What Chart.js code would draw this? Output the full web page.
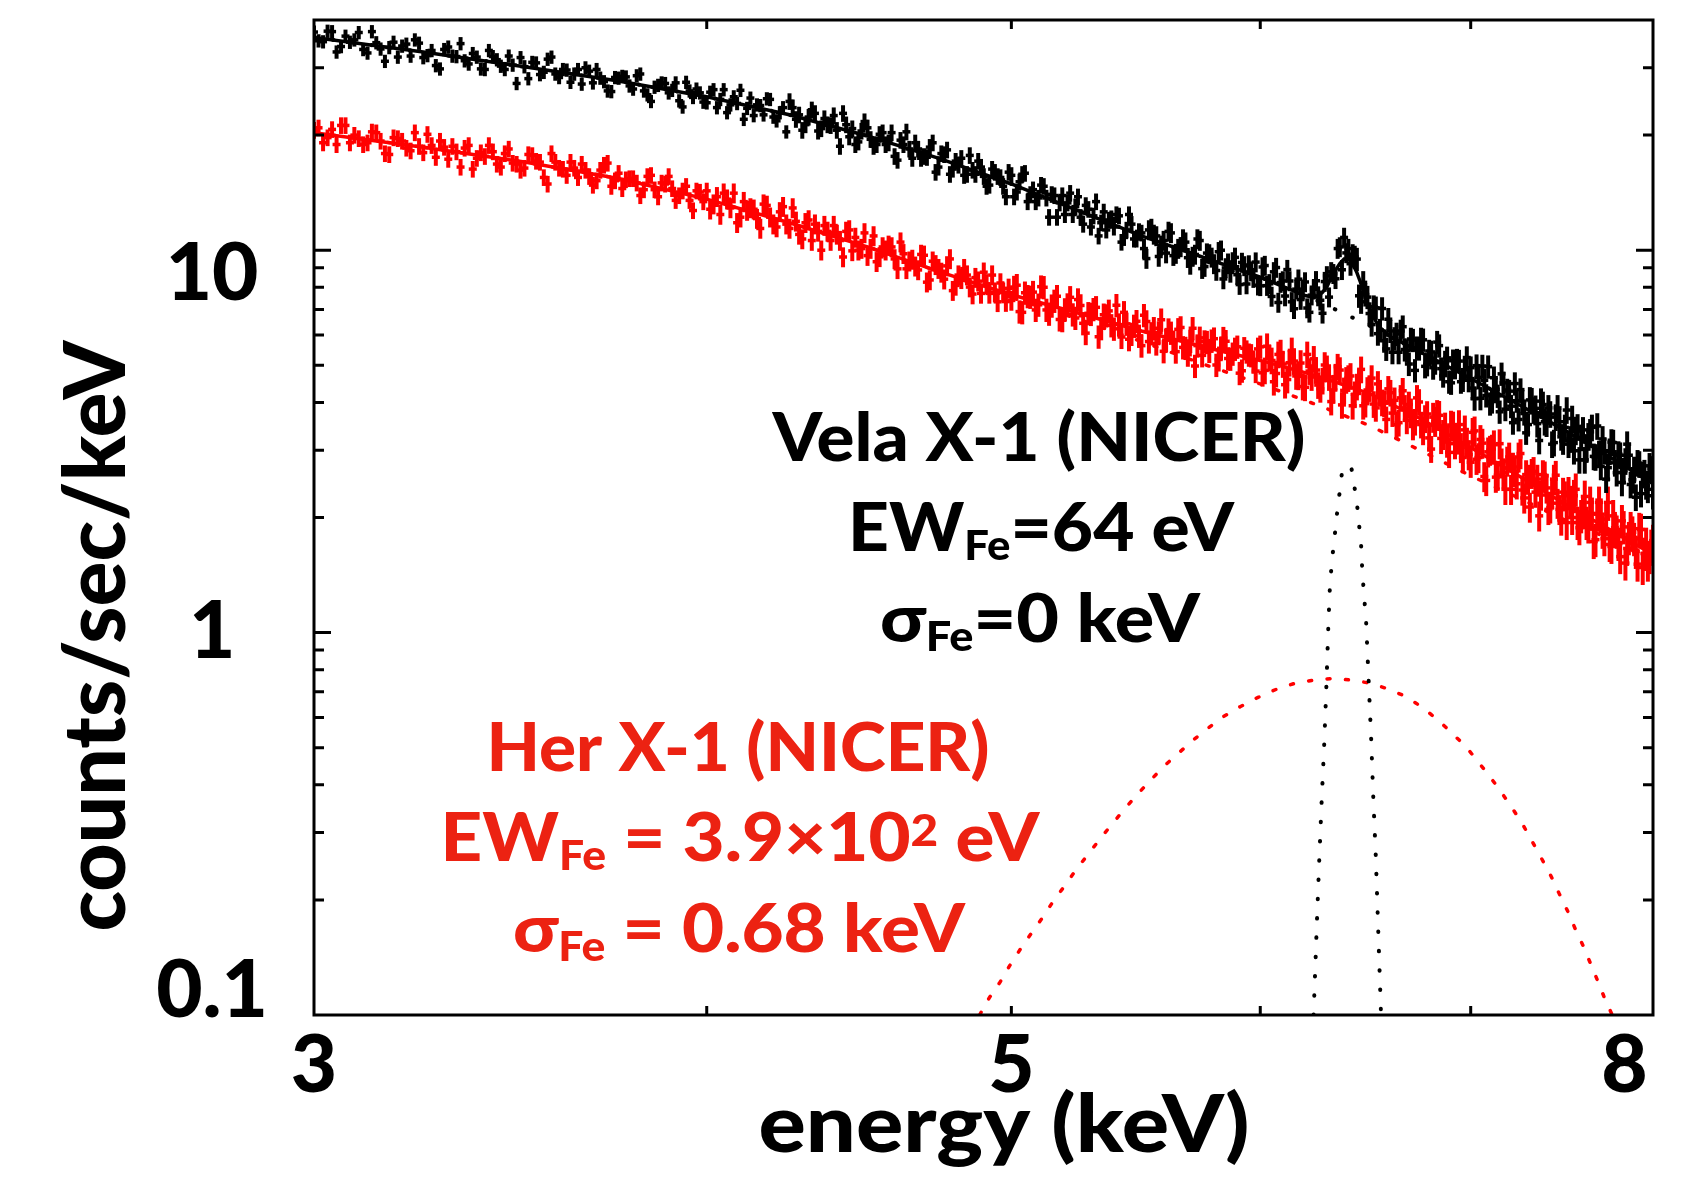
<!DOCTYPE html>
<html><head><meta charset="utf-8">
<script src="https://cdn.jsdelivr.net/npm/chart.js@4.4.1/dist/chart.umd.min.js"></script>
<style>html,body{margin:0;padding:0;background:#fff;overflow:hidden}canvas{display:block}</style>
</head><body>
<canvas id="c" width="1692" height="1181"></canvas>
<script>
// ---------- data ----------
// even channels
const energy = [
3,3.02,3.04,3.06,3.08,3.1,3.12,3.14,3.16,3.18,
3.2,3.22,3.24,3.26,3.28,3.3,3.32,3.34,3.36,3.38,
3.4,3.42,3.44,3.46,3.48,3.5,3.52,3.54,3.56,3.58,
3.6,3.62,3.64,3.66,3.68,3.7,3.72,3.74,3.76,3.78,
3.8,3.82,3.84,3.86,3.88,3.9,3.92,3.94,3.96,3.98,
4,4.02,4.04,4.06,4.08,4.1,4.12,4.14,4.16,4.18,
4.2,4.22,4.24,4.26,4.28,4.3,4.32,4.34,4.36,4.38,
4.4,4.42,4.44,4.46,4.48,4.5,4.52,4.54,4.56,4.58,
4.6,4.62,4.64,4.66,4.68,4.7,4.72,4.74,4.76,4.78,
4.8,4.82,4.84,4.86,4.88,4.9,4.92,4.94,4.96,4.98,
5,5.02,5.04,5.06,5.08,5.1,5.12,5.14,5.16,5.18,
5.2,5.22,5.24,5.26,5.28,5.3,5.32,5.34,5.36,5.38,
5.4,5.42,5.44,5.46,5.48,5.5,5.52,5.54,5.56,5.58,
5.6,5.62,5.64,5.66,5.68,5.7,5.72,5.74,5.76,5.78,
5.8,5.82,5.84,5.86,5.88,5.9,5.92,5.94,5.96,5.98,
6,6.02,6.04,6.06,6.08,6.1,6.12,6.14,6.16,6.18,
6.2,6.22,6.24,6.26,6.28,6.3,6.32,6.34,6.36,6.38,
6.4,6.42,6.44,6.46,6.48,6.5,6.52,6.54,6.56,6.58,
6.6,6.62,6.64,6.66,6.68,6.7,6.72,6.74,6.76,6.78,
6.8,6.82,6.84,6.86,6.88,6.9,6.92,6.94,6.96,6.98,
7,7.02,7.04,7.06,7.08,7.1,7.12,7.14,7.16,7.18,
7.2,7.22,7.24,7.26,7.28,7.3,7.32,7.34,7.36,7.38,
7.4,7.42,7.44,7.46,7.48,7.5,7.52,7.54,7.56,7.58,
7.6,7.62,7.64,7.66,7.68,7.7,7.72,7.74,7.76,7.78,
7.8,7.82,7.84,7.86,7.88,7.9,7.92,7.94,7.96,7.98,
8];
// odd channels
const energyMid = [
3.01,3.03,3.05,3.07,3.09,3.11,3.13,3.15,3.17,3.19,
3.21,3.23,3.25,3.27,3.29,3.31,3.33,3.35,3.37,3.39,
3.41,3.43,3.45,3.47,3.49,3.51,3.53,3.55,3.57,3.59,
3.61,3.63,3.65,3.67,3.69,3.71,3.73,3.75,3.77,3.79,
3.81,3.83,3.85,3.87,3.89,3.91,3.93,3.95,3.97,3.99,
4.01,4.03,4.05,4.07,4.09,4.11,4.13,4.15,4.17,4.19,
4.21,4.23,4.25,4.27,4.29,4.31,4.33,4.35,4.37,4.39,
4.41,4.43,4.45,4.47,4.49,4.51,4.53,4.55,4.57,4.59,
4.61,4.63,4.65,4.67,4.69,4.71,4.73,4.75,4.77,4.79,
4.81,4.83,4.85,4.87,4.89,4.91,4.93,4.95,4.97,4.99,
5.01,5.03,5.05,5.07,5.09,5.11,5.13,5.15,5.17,5.19,
5.21,5.23,5.25,5.27,5.29,5.31,5.33,5.35,5.37,5.39,
5.41,5.43,5.45,5.47,5.49,5.51,5.53,5.55,5.57,5.59,
5.61,5.63,5.65,5.67,5.69,5.71,5.73,5.75,5.77,5.79,
5.81,5.83,5.85,5.87,5.89,5.91,5.93,5.95,5.97,5.99,
6.01,6.03,6.05,6.07,6.09,6.11,6.13,6.15,6.17,6.19,
6.21,6.23,6.25,6.27,6.29,6.31,6.33,6.35,6.37,6.39,
6.41,6.43,6.45,6.47,6.49,6.51,6.53,6.55,6.57,6.59,
6.61,6.63,6.65,6.67,6.69,6.71,6.73,6.75,6.77,6.79,
6.81,6.83,6.85,6.87,6.89,6.91,6.93,6.95,6.97,6.99,
7.01,7.03,7.05,7.07,7.09,7.11,7.13,7.15,7.17,7.19,
7.21,7.23,7.25,7.27,7.29,7.31,7.33,7.35,7.37,7.39,
7.41,7.43,7.45,7.47,7.49,7.51,7.53,7.55,7.57,7.59,
7.61,7.63,7.65,7.67,7.69,7.71,7.73,7.75,7.77,7.79,
7.81,7.83,7.85,7.87,7.89,7.91,7.93,7.95,7.97,7.99];

const velaCounts = [
37.2,35.1,37.3,34.1,35.0,37.1,32.8,34.9,31.2,35.0,
34.2,32.2,34.8,32.3,30.4,33.5,32.2,34.7,30.7,32.0,
29.7,32.1,30.3,32.2,27.3,30.2,31.0,28.8,31.6,28.9,
29.7,27.5,29.7,30.0,27.4,28.2,26.1,28.3,28.5,26.9,
28.6,26.1,24.5,27.0,27.3,26.2,24.6,27.5,25.1,25.8,
24.3,26.3,24.8,22.9,25.2,26.2,23.5,22.5,23.9,24.9,
22.3,22.9,20.4,23.6,22.6,21.3,23.3,20.5,22.1,21.2,
20.6,22.8,19.8,18.9,20.5,20.9,18.7,20.1,18.9,20.3,
17.2,18.9,18.4,19.1,17.4,17.5,19.1,16.5,17.8,15.8,
17.1,17.4,15.8,16.2,17.1,15.6,14.8,16.0,15.5,13.8,
15.7,14.2,15.8,13.4,14.4,13.7,14.7,12.2,13.9,13.3,
12.4,14.1,13.0,12.2,13.1,11.5,13.4,11.8,11.3,12.1,
12.4,10.5,11.3,11.7,10.7,11.1,9.51,11.4,10.9,10.3,
9.83,11.1,9.80,10.2,10.5,9.18,9.75,10.6,9.06,9.78,
9.21,9.91,8.41,9.25,9.32,8.63,9.29,8.16,8.82,9.31,
8.07,9.12,8.17,8.78,7.30,8.31,8.90,7.33,7.91,7.43,
8.26,6.88,7.91,7.59,6.84,8.57,8.78,8.42,10.2,10.8,
10.1,9.69,9.48,7.33,7.66,6.83,7.12,6.05,7.04,5.52,
6.15,5.88,5.41,6.31,5.46,5.86,4.85,5.53,5.83,5.03,
5.42,5.08,5.63,4.70,5.23,4.50,4.94,5.13,4.58,5.24,
4.93,4.09,4.65,4.98,4.17,3.97,4.64,4.16,4.75,3.84,
4.28,3.54,4.04,4.32,3.74,3.50,4.04,3.86,3.18,3.95,
3.53,3.73,3.14,3.87,3.25,3.44,3.11,3.63,3.36,2.83,
3.39,3.02,3.35,2.89,3.47,2.72,2.99,2.70,3.15,2.78,
2.93,2.47,2.81,2.91,2.51,2.26,2.76,2.59,2.42,2.73,
2.28];
const velaCountsMid = [
35.3,37.4,33.0,36.3,35.5,33.5,37.3,33.6,33.9,32.0,
34.6,35.5,31.9,33.3,29.8,34.0,32.1,31.3,32.7,29.8,
33.3,31.5,29.7,30.5,31.9,28.1,30.9,29.2,32.0,28.3,
29.6,28.9,27.2,29.4,29.7,27.6,26.0,28.2,28.4,26.4,
28.9,25.5,26.7,27.4,25.8,27.4,23.7,26.1,26.4,24.4,
25.9,23.6,26.3,24.0,24.2,22.0,25.0,24.0,22.6,24.8,
21.8,23.6,24.5,22.0,20.6,22.3,22.8,20.8,21.3,22.5,
18.7,21.3,20.8,19.2,21.7,19.5,18.9,20.3,19.1,17.6,
19.4,20.4,17.4,18.4,17.6,18.6,16.0,17.9,18.3,16.3,
16.7,15.7,17.7,15.8,16.5,14.7,16.3,15.6,14.7,16.0,
13.8,15.1,15.9,14.0,13.4,14.8,13.7,14.0,12.2,13.9,
13.3,12.4,13.8,11.7,12.8,12.3,10.9,12.6,12.0,11.5,
12.3,10.8,12.4,10.7,11.2,10.1,11.3,11.0,9.63,10.6,
11.2,9.68,10.1,10.7,9.56,9.63,10.7,8.95,9.83,9.58,
8.85,10.0,8.99,8.75,9.58,8.13,9.10,9.15,8.48,8.10,
9.04,8.08,7.57,9.01,8.23,7.59,8.31,7.03,8.40,7.91,
7.06,7.63,8.32,7.40,8.28,7.54,8.68,10.1,8.89,9.84,
9.22,9.60,7.60,8.24,7.54,6.39,7.07,6.18,5.80,6.60,
5.41,6.04,6.15,5.50,5.04,5.82,5.56,5.86,4.97,5.45,
4.93,5.75,4.90,5.10,4.53,5.14,5.16,4.53,4.87,4.57,
4.36,4.99,4.10,4.57,4.96,4.02,4.33,3.78,4.50,4.31,
3.91,4.48,3.61,4.03,3.33,4.06,3.82,3.52,4.03,3.56,
3.87,3.11,3.66,3.56,3.17,3.82,3.21,2.99,3.45,3.24,
2.83,3.27,3.44,2.88,2.94,3.21,2.52,2.98,3.14,2.62,
2.91,2.65,3.11,2.44,2.67,2.78,2.31,2.62,2.37,2.68];

const herCounts = [
20.6,19.1,20.7,21.2,19.1,19.6,19.1,20.3,17.9,19.7,
19.3,18.2,18.7,20.1,17.5,18.6,18.7,16.5,18.8,17.4,
17.6,18.1,16.5,18.4,16.8,16.4,17.7,17.0,14.9,17.0,
16.3,17.0,15.5,16.2,14.8,16.2,16.9,15.2,14.5,15.4,
15.0,14.4,15.7,13.8,14.9,14.5,13.9,14.7,12.7,14.2,
14.3,13.2,12.4,13.6,14.1,12.2,12.7,12.8,11.4,13.1,
11.7,12.6,11.7,12.9,11.0,11.8,10.6,11.2,11.6,10.6,
11.0,9.60,11.3,10.8,10.1,9.68,10.9,9.61,10.0,10.2,
8.94,9.79,9.36,9.08,9.75,8.25,9.36,8.95,8.40,9.49,
8.09,8.42,8.61,7.68,8.30,8.76,7.71,7.77,8.21,7.34,
7.39,8.10,6.88,7.58,7.77,7.20,8.00,6.82,7.37,6.59,
7.00,7.53,6.65,7.17,6.07,6.81,7.09,6.25,6.75,6.36,
7.18,5.93,6.42,6.04,6.52,5.63,6.51,6.06,5.70,6.58,
5.82,6.08,5.43,6.28,5.55,5.79,4.98,5.90,5.77,5.45,
5.87,5.18,5.89,5.21,5.36,5.59,4.84,5.43,5.31,4.83,
5.59,4.85,5.24,4.53,5.34,5.04,4.59,5.47,4.69,5.07,
4.38,4.83,5.20,4.44,4.56,4.91,4.02,4.67,4.86,4.30,
4.63,3.92,4.40,4.88,3.97,4.36,3.96,4.47,4.00,3.61,
4.24,4.05,3.54,4.29,3.59,3.79,3.56,4.01,3.36,3.73,
3.02,3.57,3.70,3.30,3.15,3.49,3.12,3.50,2.87,3.15,
2.79,3.37,2.87,3.13,2.50,3.00,3.10,2.58,2.78,2.37,
2.88,2.71,2.45,2.94,2.25,2.52,2.61,2.33,2.02,2.59,
2.39,2.12,2.52,2.18,1.97,2.28,2.32,2.00,2.37,1.88,
2.07,1.94,2.19,1.73,2.04,2.04,1.76,2.19,1.68,1.88,
1.71,1.96,1.52,1.77,1.83,1.63,1.87,1.48,1.71,1.58,
1.74];
const herCountsMid = [
20.9,19.7,18.9,21.2,20.0,18.9,20.4,19.3,17.8,19.6,
18.5,20.3,18.0,18.8,19.3,17.3,18.1,18.5,16.3,18.0,
18.8,16.8,17.9,16.9,16.2,17.8,17.1,15.5,17.9,16.4,
15.7,16.4,16.8,15.6,15.2,16.7,14.7,15.9,15.3,15.4,
13.9,15.6,14.4,15.0,15.6,13.5,14.3,13.5,14.3,13.4,
12.8,13.8,14.1,12.9,11.8,13.4,12.9,12.1,13.2,12.2,
11.5,13.0,11.4,11.9,10.7,12.0,11.7,10.0,11.2,11.6,
10.6,11.2,9.96,10.0,11.1,10.1,9.33,10.2,10.3,9.49,
10.5,8.94,9.46,8.88,9.70,8.36,9.16,8.75,9.10,7.84,
8.61,8.95,8.01,8.48,7.71,8.17,8.61,7.33,7.77,7.95,
8.01,6.91,7.74,7.55,6.98,8.03,6.98,7.16,7.58,6.56,
7.21,6.79,7.43,6.44,6.84,7.01,5.94,6.78,6.94,6.23,
6.39,6.88,5.85,6.34,5.97,6.76,5.77,6.25,6.09,5.44,
6.20,5.76,6.21,5.57,5.33,6.25,5.63,5.31,5.75,5.80,
5.01,5.54,5.78,5.20,5.52,4.77,5.54,5.33,5.11,5.52,
4.78,5.61,5.15,4.76,5.40,4.45,5.08,5.13,4.68,4.40,
5.34,4.66,4.86,4.34,5.01,4.66,4.31,4.96,3.94,4.58,
4.69,4.20,4.54,3.92,4.31,4.63,3.87,4.24,3.98,4.34,
3.75,3.50,4.11,3.87,3.95,3.46,4.11,3.50,3.64,3.23,
3.66,3.72,3.22,3.45,2.96,3.47,3.21,3.05,3.39,2.92,
3.34,2.84,3.20,2.56,2.97,3.02,2.55,3.12,2.62,2.81,
2.37,2.64,2.88,2.36,2.59,2.13,2.64,2.52,2.29,2.57,
2.10,2.31,2.58,2.10,2.33,1.94,2.20,2.28,1.94,2.02,
2.27,1.90,2.05,1.75,2.19,1.84,1.98,1.70,2.02,1.84,
1.58,1.89,1.66,1.88,1.76,1.51,1.86,1.61,1.51,1.69];

// 1-sigma errors (percent of value) by energy band; band edges in keV
const velaErrEdges = [4.25, 5.51, 6.41, 7.31];
const velaErrPct = [4, 5, 6, 7, 8];
const herErrEdges = [4.01, 5.01, 6.01, 6.81, 7.51];
const herErrPct = [5, 6, 7, 8, 9, 10];

// model curves
const modelE = [3,3.25,3.5,3.75,4,4.25,4.5,4.75,5,5.25,5.5,5.75,6,6.25,6.5,6.75,7,7.25,7.5,7.75,8];
const velaContinuum = [36.0,33.0,30.2,27.7,25.2,22.6,19.9,17.3,14.9,12.7,10.9,9.6,8.5,7.4,6.35,5.4,4.62,3.95,3.38,2.88,2.45];
const herModel = [20.3,18.6,17.0,15.4,13.6,11.8,10.2,8.75,7.65,6.85,6.15,5.6,5.15,4.7,4.22,3.62,3.05,2.57,2.17,1.86,1.60];
const herContinuum = [20.3,18.6,17.0,15.4,13.6,11.8,10.2,8.75,7.52,6.61,5.77,5.05,4.47,3.95,3.48,2.99,2.57,2.25,1.97,1.76,1.54];

const velaModelE = [3,3.25,3.5,3.75,4,4.25,4.5,4.75,5,5.25,5.5,5.75,6,6.2,6.24,6.26,6.28,6.3,6.32,6.34,6.36,6.38,6.4,6.42,6.44,6.46,6.48,6.5,6.52,6.54,6.56,6.6,6.75,7,7.25,7.5,7.75,8];
const velaModel = [36.0,33.0,30.2,27.7,25.2,22.6,19.9,17.3,14.9,12.7,10.9,9.6,8.5,7.61,7.53,7.59,7.76,8.02,8.49,8.87,9.22,9.48,9.49,9.22,8.74,8.16,7.53,7.07,6.67,6.38,6.2,5.95,5.4,4.62,3.95,3.38,2.88,2.45];

const velaLineE = [6.239,6.255,6.265,6.276,6.288,6.298,6.307,6.314,6.321,6.330,6.340,6.349,6.361,6.372,6.395,6.414,6.429,6.442,6.451,6.460,6.464,6.470,6.484,6.496,6.508,6.518,6.530,6.539,6.555];
const velaLine = [0.100,0.180,0.255,0.363,0.515,0.732,1.05,1.32,1.48,1.67,1.87,2.10,2.37,2.68,2.74,2.70,2.40,2.13,1.90,1.69,1.51,1.34,1.06,0.744,0.524,0.369,0.259,0.183,0.100];

const herLineE = [4.885,4.920,4.956,4.995,5.034,5.075,5.116,5.157,5.200,5.243,5.289,5.336,5.383,5.433,5.484,5.538,5.594,5.653,5.713,5.777,5.840,5.912,5.990,6.069,6.154,6.238,6.330,6.417,6.506,6.596,6.679,6.757,6.836,6.906,6.976,7.040,7.101,7.161,7.219,7.275,7.325,7.374,7.424,7.468,7.515,7.557,7.600,7.643,7.685,7.727,7.765];
const herLine = [0.100,0.111,0.121,0.135,0.149,0.164,0.180,0.199,0.218,0.240,0.263,0.289,0.316,0.346,0.378,0.412,0.449,0.485,0.524,0.564,0.603,0.640,0.677,0.710,0.737,0.751,0.759,0.751,0.737,0.710,0.679,0.637,0.590,0.545,0.503,0.458,0.419,0.381,0.346,0.313,0.283,0.256,0.231,0.208,0.187,0.168,0.152,0.136,0.122,0.109,0.100];

// axis ticks
const xTickValues = [3, 5, 8];
const xTickLabels = ['3', '5', '8   '];
const xMinorTicks = [4, 5, 6, 7];
const yTickValues = [0.1, 1, 10];
const yTickLabels = [['0.1', ''], '1', ['', '10']];
const yMajorMarks = [1, 10];
const yMinorMarks = [0.2,0.3,0.4,0.5,0.6,0.7,0.8,0.9,2,3,4,5,6,7,8,9,20,30];

// ---------- styling ----------
const FONT = 'Lato, "Noto Sans", "DejaVu Sans", sans-serif';
const BLACK = '#000000';
const RED_DATA = '#ff0000';
const RED_TEXT = 'rgb(236,34,18)';

const allE = energy.concat(energyMid);
const velaAll = velaCounts.concat(velaCountsMid);
const herAll = herCounts.concat(herCountsMid);

const pts = (xs, ys) => xs.map((x, i) => ({x, y: ys[i]}));
const pctFor = (e, edges, pcts) => pcts[edges.filter(b => e >= b).length];
const errBars = (xs, ys, edges, pcts) => xs.map((x, i) => {
  const p = pctFor(x, edges, pcts) / 100;
  return {x, y: [ys[i] * (1 - p), ys[i] * (1 + p)]};
});

const barStyle = c => ({type: 'bar', backgroundColor: c, borderWidth: 0, grouped: false,
  maxBarThickness: 4, categoryPercentage: 1, barPercentage: 2.5, inflateAmount: 0});
const markStyle = c => ({type: 'scatter', showLine: false, pointStyle: 'line', pointRadius: 4,
  borderColor: c, backgroundColor: c, pointBorderWidth: 3.5});
const lineStyle = (c, w, dash) => ({type: 'line', borderColor: c, borderWidth: w, pointRadius: 0,
  fill: false, tension: 0, borderDash: dash || [], borderCapStyle: dash ? 'round' : 'butt'});

const datasets = [
  {label: 'Vela model', data: pts(velaModelE, velaModel), ...lineStyle(BLACK, 3.5)},
  {label: 'Vela X-1', data: pts(allE, velaAll), ...markStyle(BLACK)},
  {label: 'Vela X-1 err', data: errBars(allE, velaAll, velaErrEdges, velaErrPct), ...barStyle(BLACK)},
  {label: 'Her model', data: pts(modelE, herModel), ...lineStyle(RED_DATA, 3.5)},
  {label: 'Her X-1', data: pts(allE, herAll), ...markStyle(RED_DATA)},
  {label: 'Her X-1 err', data: errBars(allE, herAll, herErrEdges, herErrPct), ...barStyle(RED_DATA)},
  {label: 'Vela Fe line', data: pts(velaLineE, velaLine), ...lineStyle(BLACK, 4, [0.5, 18.8])},
  {label: 'Vela continuum', data: pts(modelE, velaContinuum), ...lineStyle(BLACK, 4, [0.5, 18.8])},
  {label: 'Her Fe line', data: pts(herLineE, herLine), ...lineStyle(RED_DATA, 3.5, [3, 15.5])},
  {label: 'Her continuum', data: pts(modelE, herContinuum), ...lineStyle(RED_DATA, 3.5, [3, 15.5])}
];

const annotations = [
  {color: BLACK, cx: 1039, base: 461, w: 533, parts: [['Vela X-1 (NICER)', 'n']]},
  {color: BLACK, cx: 1041, base: 551, w: 386, parts: [['EW', 'n'], ['Fe', 'sub'], ['=64 eV', 'n']]},
  {color: BLACK, cx: 1040, base: 642, w: 320, parts: [['σ', 'n'], ['Fe', 'sub'], ['=0 keV', 'n']]},
  {color: RED_TEXT, cx: 738, base: 771, w: 503, parts: [['Her X-1 (NICER)', 'n']]},
  {color: RED_TEXT, cx: 740, base: 861, w: 599, parts: [['EW', 'n'], ['Fe', 'sub'], [' = 3.9×10', 'n'], ['2', 'sup'], [' eV', 'n']]},
  {color: RED_TEXT, cx: 739, base: 952, w: 452, parts: [['σ', 'n'], ['Fe', 'sub'], [' = 0.68 keV', 'n']]}
];
const xTitle = {text: 'energy (keV)', cx: 1004, base: 1152, w: 491, size: 80};
const yTitle = {text: 'counts/sec/keV', cy: 636, base: 125, w: 591, size: 86};

function drawRich(ctx, line, size, subSize, supSize) {
  const fonts = {n: `900 ${size}px ${FONT}`, sub: `900 ${subSize}px ${FONT}`, sup: `900 ${supSize}px ${FONT}`};
  const widths = [];
  let total = 0;
  for (const [t, k] of line.parts) { ctx.font = fonts[k]; const w = ctx.measureText(t).width; widths.push(w); total += w; }
  ctx.save();
  ctx.translate(line.cx - line.w / 2, line.base);
  ctx.scale(line.w / total, 1);
  ctx.fillStyle = line.color;
  ctx.textAlign = 'left';
  ctx.textBaseline = 'alphabetic';
  let x = 0;
  line.parts.forEach(([t, k], i) => {
    ctx.font = fonts[k];
    const dy = k === 'sub' ? 9 : (k === 'sup' ? -15 : 0);
    ctx.fillText(t, x, dy);
    x += widths[i];
  });
  ctx.restore();
}

const framePlugin = {
  id: 'frame',
  afterDatasetsDraw(chart) {
    const {ctx, chartArea: a, scales: {x, y}} = chart;
    ctx.save();
    ctx.strokeStyle = BLACK;
    ctx.lineWidth = 3;
    ctx.beginPath();
    for (const e of xMinorTicks) {
      const p = x.getPixelForValue(e);
      ctx.moveTo(p, a.bottom); ctx.lineTo(p, a.bottom - 9);
      ctx.moveTo(p, a.top); ctx.lineTo(p, a.top + 9);
    }
    const yMark = (v, len) => {
      const p = y.getPixelForValue(v);
      ctx.moveTo(a.left, p); ctx.lineTo(a.left + len, p);
      ctx.moveTo(a.right, p); ctx.lineTo(a.right - len, p);
    };
    yMajorMarks.forEach(v => yMark(v, 17));
    yMinorMarks.forEach(v => yMark(v, 10));
    ctx.stroke();
    ctx.strokeRect(a.left, a.top, a.right - a.left, a.bottom - a.top);
    ctx.restore();
  },
  afterDraw(chart) {
    const ctx = chart.ctx;
    annotations.forEach(l => drawRich(ctx, l, 67, 41, 44));
    ctx.save();
    ctx.font = `900 ${xTitle.size}px ${FONT}`;
    let w = ctx.measureText(xTitle.text).width;
    ctx.translate(xTitle.cx - xTitle.w / 2, xTitle.base);
    ctx.scale(xTitle.w / w, 1);
    ctx.fillStyle = BLACK; ctx.textAlign = 'left'; ctx.textBaseline = 'alphabetic';
    ctx.fillText(xTitle.text, 0, 0);
    ctx.restore();
    ctx.save();
    ctx.font = `900 ${yTitle.size}px ${FONT}`;
    w = ctx.measureText(yTitle.text).width;
    ctx.translate(yTitle.base, yTitle.cy);
    ctx.rotate(-Math.PI / 2);
    ctx.translate(-yTitle.w / 2, 0);
    ctx.scale(yTitle.w / w, 1);
    ctx.fillStyle = BLACK; ctx.textAlign = 'left'; ctx.textBaseline = 'alphabetic';
    ctx.fillText(yTitle.text, 0, 0);
    ctx.restore();
  }
};

Chart.defaults.font.family = FONT;
Chart.defaults.color = BLACK;

new Chart(document.getElementById('c'), {
  type: 'scatter',
  data: {datasets},
  options: {
    responsive: false,
    devicePixelRatio: 1,
    animation: false,
    events: [],
    layout: {padding: {left: 0, top: 20, right: 39, bottom: 0}},
    plugins: {legend: {display: false}, tooltip: {enabled: false}},
    scales: {
      x: {
        type: 'logarithmic', position: 'bottom', min: 3, max: 8,
        grid: {display: false, drawTicks: false}, border: {display: false},
        afterBuildTicks: s => { s.ticks = xTickValues.map(v => ({value: v})); },
        afterFit: s => { s.height = 166; s.paddingLeft = 0; s.paddingRight = 0; },
        ticks: {
          autoSkip: false, maxRotation: 0, minRotation: 0, padding: 3, color: BLACK,
          font: {family: FONT, size: 80, weight: '900', lineHeight: 1.2},
          callback: v => { const i = xTickValues.indexOf(v); return i >= 0 ? xTickLabels[i] : ''; }
        }
      },
      y: {
        type: 'logarithmic', position: 'left', min: 0.1, max: 40,
        grid: {display: false, drawTicks: false}, border: {display: false},
        afterBuildTicks: s => { s.ticks = yTickValues.map(v => ({value: v})); },
        afterFit: s => { s.width = 314; s.paddingTop = 0; s.paddingBottom = 0; },
        ticks: {
          autoSkip: false, crossAlign: 'center', padding: 46, color: BLACK,
          font: {family: FONT, size: 80, weight: '900', lineHeight: '47px'},
          callback: v => { const i = yTickValues.indexOf(v); return i >= 0 ? yTickLabels[i] : ''; }
        }
      }
    }
  },
  plugins: [framePlugin]
});
</script>
</body></html>
